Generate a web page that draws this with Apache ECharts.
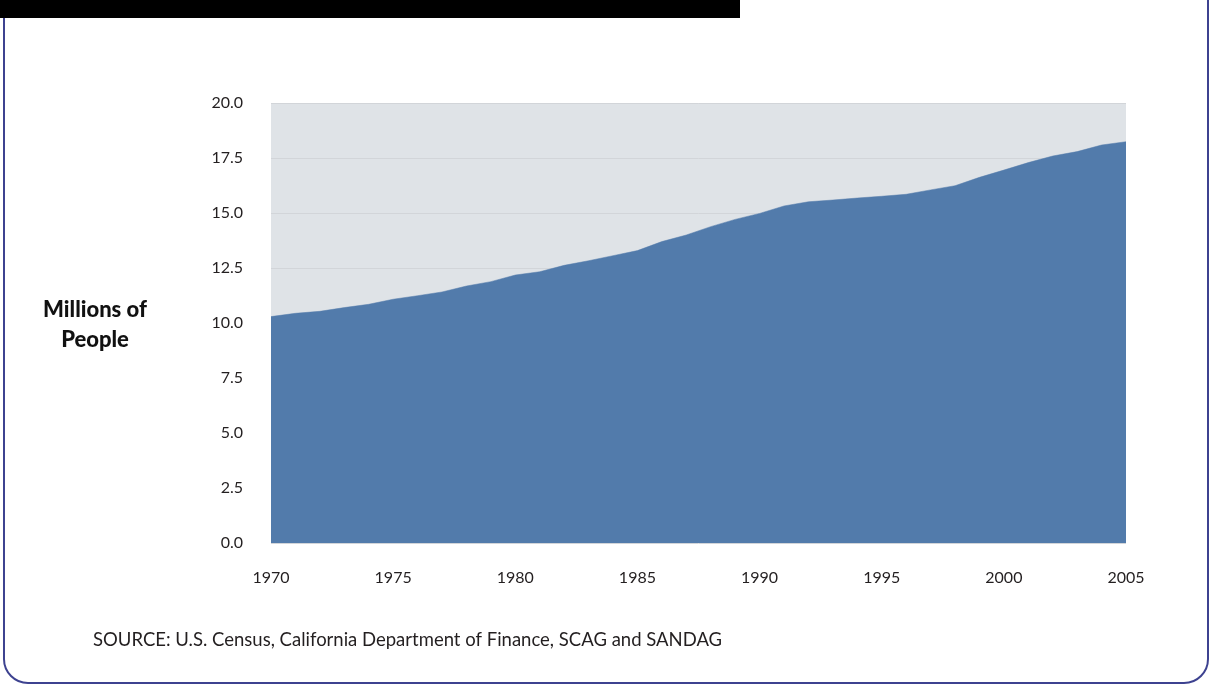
<!DOCTYPE html>
<html>
<head>
<meta charset="utf-8">
<script src="https://cdn.jsdelivr.net/npm/echarts@6/dist/echarts.min.js"></script>
<style>
html,body{margin:0;padding:0;background:#fff;}
#chart{width:1212px;height:685px;}
</style>
</head>
<body>
<div id="chart"></div>
<script>
const years = [1970,1971,1972,1973,1974,1975,1976,1977,1978,1979,1980,1981,1982,1983,1984,1985,1986,1987,1988,1989,1990,1991,1992,1993,1994,1995,1996,1997,1998,1999,2000,2001,2002,2003,2004,2005];
const population = [10.29,10.44,10.53,10.70,10.85,11.08,11.24,11.41,11.68,11.88,12.18,12.33,12.62,12.83,13.06,13.29,13.70,14.00,14.38,14.71,14.98,15.32,15.51,15.59,15.68,15.76,15.85,16.05,16.24,16.62,16.95,17.29,17.59,17.79,18.09,18.24];
const yAxisTitle = ['Millions of', 'People'];
const sourceText = 'SOURCE: U.S. Census, California Department of Finance, SCAG and SANDAG';

const chart = echarts.init(document.getElementById('chart'), null, {renderer: 'canvas'});
const font = 'Lato, "Open Sans", sans-serif';
chart.setOption({
  animation: false,
  backgroundColor: '#ffffff',
  grid: {left: 271, right: 86, top: 103, bottom: 142, show: true, backgroundColor: '#dfe3e7', borderWidth: 0},
  xAxis: {
    type: 'value', min: 1970, max: 2005, interval: 5,
    axisLine: {show: false}, axisTick: {show: false}, splitLine: {show: false},
    axisLabel: {color: '#231f20', fontSize: 16, fontFamily: font, margin: 27, formatter: v => String(v)}
  },
  yAxis: {
    type: 'value', min: 0, max: 20, interval: 2.5,
    axisLine: {show: false}, axisTick: {show: false},
    splitLine: {show: true, lineStyle: {color: '#d2d5d9', width: 1}},
    axisLabel: {color: '#231f20', fontSize: 16, fontFamily: font, margin: 28, formatter: v => v.toFixed(1)}
  },
  series: [{
    type: 'line',
    data: years.map((y, i) => [y, population[i]]),
    showSymbol: false,
    symbol: 'none',
    lineStyle: {width: 0.5, color: '#527bab'},
    areaStyle: {color: '#527bab', opacity: 1},
    z: 3
  }],
  graphic: [
    {type: 'rect', shape: {x: 4, y: -40, width: 1204, height: 723, r: 24}, style: {fill: 'none', stroke: '#3d4290', lineWidth: 2}, z: 0},
    {type: 'rect', shape: {x: 0, y: 0, width: 740, height: 18}, style: {fill: '#000000'}, z: 1},
    {type: 'text', x: 95, y: 310, style: {text: yAxisTitle[0], font: '900 22px ' + font, fill: '#111111', textAlign: 'center', textVerticalAlign: 'middle'}},
    {type: 'text', x: 95, y: 340, style: {text: yAxisTitle[1], font: '900 22px ' + font, fill: '#111111', textAlign: 'center', textVerticalAlign: 'middle'}},
    {type: 'text', x: 93, y: 640, style: {text: sourceText, font: '18.5px ' + font, fill: '#231f20', textAlign: 'left', textVerticalAlign: 'middle'}}
  ]
});
</script>
</body>
</html>
